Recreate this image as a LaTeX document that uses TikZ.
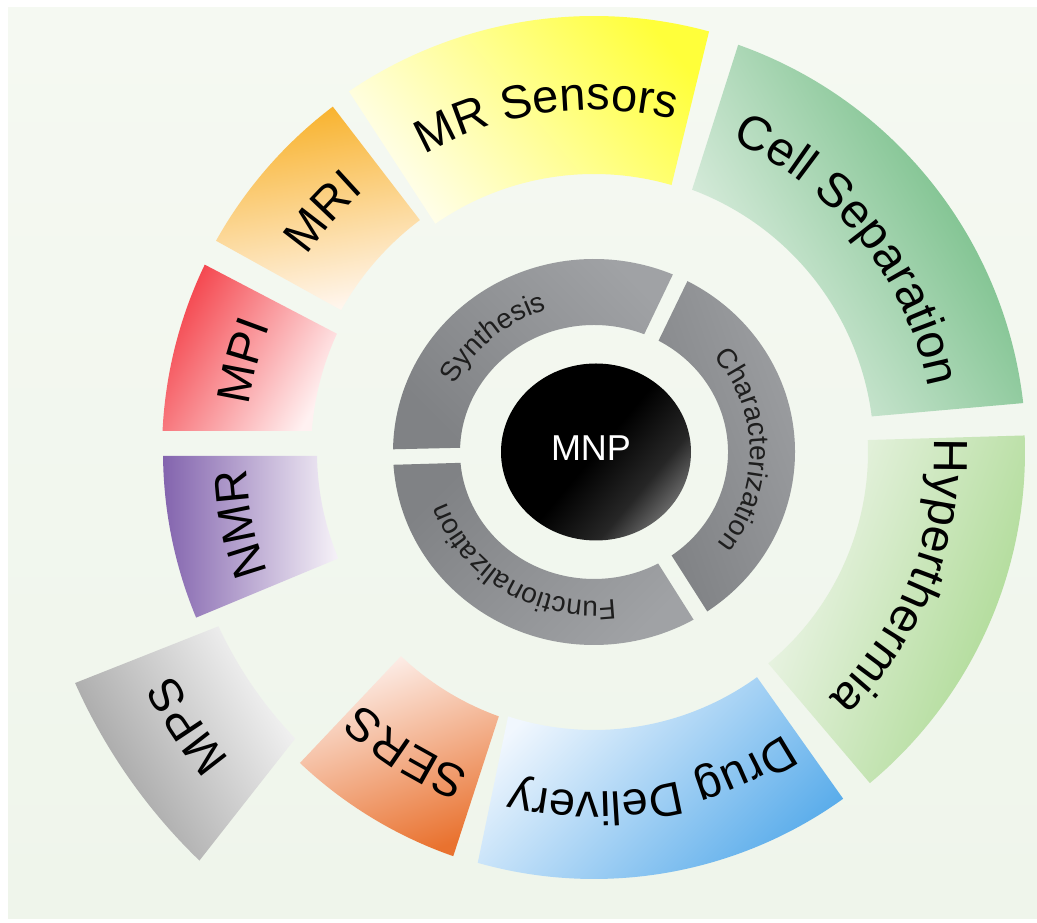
\documentclass[tikz,border=0pt]{standalone}
\usepackage{fontspec}
\setmainfont{Liberation Sans}
\usetikzlibrary{decorations.text,shapes.geometric}
\definecolor{bgtop}{HTML}{F5F9F2}
\definecolor{bgmid}{HTML}{E6F0E0}
\definecolor{bgbot}{HTML}{EFF5EB}
\definecolor{hypA}{HTML}{A8D88E}
\definecolor{hypB}{HTML}{F0F6EC}
\definecolor{cellA}{HTML}{68B87C}
\definecolor{cellB}{HTML}{E6F2E8}
\definecolor{mrsA}{HTML}{FFFF3A}
\definecolor{mrsB}{HTML}{FFFEEC}
\definecolor{mriA}{HTML}{F8B22C}
\definecolor{mriB}{HTML}{FFF6EE}
\definecolor{mpiA}{HTML}{F4444C}
\definecolor{mpiB}{HTML}{FFF1F1}
\definecolor{nmrA}{HTML}{8364AE}
\definecolor{nmrB}{HTML}{F6F2F8}
\definecolor{mpsA}{HTML}{9C9C9C}
\definecolor{mpsB}{HTML}{F6F6F6}
\definecolor{sersA}{HTML}{E9722F}
\definecolor{sersB}{HTML}{FDF0EC}
\definecolor{ddA}{HTML}{55AAEA}
\definecolor{ddB}{HTML}{F1F7FE}
\definecolor{ringA}{HTML}{A0A2A5}
\definecolor{ringB}{HTML}{808285}
\definecolor{ringtext}{HTML}{1E1E1E}
\pgfdeclarehorizontalshading{mnpshade}{100bp}{color(0bp)=(black); color(50bp)=(black); color(66bp)=(black!85); color(82bp)=(black!40); color(100bp)=(black!18)}
% outer ring segment: ao1 ao2 ai1 ai2 rin rout options
\newcommand\ringseg[7]{\path[#7] (#1:#6pt) arc[start angle=#1, end angle=#2, radius=#6pt] -- (#4:#5pt) arc[start angle=#4, end angle=#3, radius=#5pt] -- cycle;}
% inner (elliptic) ring segment: ao1 ao2 ai1 ai2 options
\newcommand\inseg[5]{\path[#5] (#1:201pt and 193pt) arc[start angle=#1, end angle=#2, x radius=201pt, y radius=193pt] -- (#4:134pt and 127pt) arc[start angle=#4, end angle=#3, x radius=134pt, y radius=127pt] -- cycle;}
% label along a clockwise arc: centre angle, half span, radius, size, text
\newcommand\arclabel[5]{\path[decorate, decoration={text along path, text align=center, text={|\fontsize{#4}{#4}\selectfont|#5}}] ({#1+#2}:#3pt) arc[start angle={#1+#2}, end angle={#1-#2}, radius=#3pt];}
\newcommand\ellabel[6]{\path[decorate, decoration={text along path, text align=center, text={|\fontsize{#5}{#5}\selectfont\color{ringtext}|#6}}] ({#1+#2}:#3pt and #4pt) arc[start angle={#1+#2}, end angle={#1-#2}, x radius=#3pt, y radius=#4pt];}
\tikzset{
  ringgray/.style={top color=ringA, bottom color=ringB, shading angle=#1},
}
\begin{document}
\begin{tikzpicture}[x=1pt,y=1pt]
\fill[white] (0,0) rectangle (1037,923);
\shade[top color=bgtop, middle color=bgmid, bottom color=bgbot] (8,4) rectangle (1037,915);
\useasboundingbox (0,0) rectangle (1037,923);
\begin{scope}[shift={(594pt,471pt)}]
% outer ring
\ringseg{-50.2}{2.2}{-50.5}{2.5}{274}{431}{top color=hypA, bottom color=hypB, shading angle=-110}
\ringseg{6.5}{70.5}{7.3}{69.5}{280}{432}{top color=cellA, bottom color=cellB, shading angle=-60}
\ringseg{74.7}{124.2}{73.8}{124.8}{278}{436}{top color=mrsA, bottom color=mrsB, shading angle=-50}
\ringseg{127.1}{150.8}{126.9}{150.7}{290}{433}{top color=mriA, bottom color=mriB, shading angle=10}
\ringseg{154.3}{177.2}{155.3}{175.7}{283}{432}{top color=mpiA, bottom color=mpiB, shading angle=60}
\ringseg{180.5}{202.6}{180.8}{202.6}{277}{431}{top color=nmrA, bottom color=nmrB, shading angle=90}
\ringseg{204}{226}{204.9}{223.8}{414}{568}{top color=mpsA, bottom color=mpsB, shading angle=120}
\ringseg{226.6}{250.8}{226.6}{250.2}{281}{428}{top color=sersA, bottom color=sersB, shading angle=-160}
\ringseg{254.2}{305.7}{252.0}{305.9}{278}{427}{top color=ddA, bottom color=ddB, shading angle=-135}
% outer labels
\arclabel{98}{70}{342}{47}{MR Sensors}
\arclabel{38.5}{75}{340}{48}{Cell Separation}
\arclabel{-22}{75}{340}{48}{Hyperthermia}
\arclabel{-80}{70}{340}{47}{Drug Delivery}
\arclabel{-122}{40}{342}{47}{SERS}
\arclabel{-146}{40}{476}{47}{MPS}
\arclabel{191.5}{40}{348}{47}{NMR}
\arclabel{165.5}{40}{348}{47}{MPI}
\arclabel{138.5}{40}{348}{47}{MRI}
% inner ring
\inseg{66.9}{179.2}{68.0}{178.1}{ringgray=-45}
\inseg{-55.7}{62.3}{-54.6}{61.2}{ringgray=-70}
\inseg{183.8}{299.7}{184.9}{298.6}{ringgray=-135}
\ellabel{131}{60}{156}{149}{28}{Synthesis}
\ellabel{1}{75}{156}{149}{28}{Characterization}
\ellabel{-122}{75}{156}{149}{28}{Functionalization}
% core
\node[ellipse, minimum width=190pt, minimum height=177pt, inner sep=0pt,
      shading=mnpshade, shading angle=-40] (core) at (2,0) {};
\node[text=white, font=\fontsize{36}{36}\selectfont] (mnp) at (-3,4) {MNP};
\end{scope}
\end{tikzpicture}
\end{document}
